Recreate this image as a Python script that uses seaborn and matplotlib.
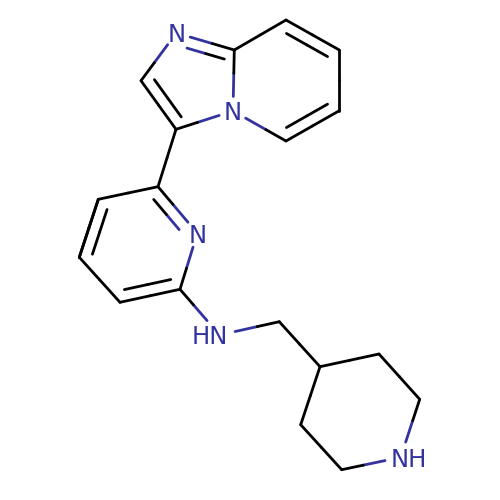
import numpy as np
import pandas as pd
import matplotlib
matplotlib.use("Agg")
import matplotlib.pyplot as plt
import seaborn as sns

# atom positions
atom_names = ['N1', 'C2', 'C3', 'Nb', 'C8a', 'C8', 'C7', 'C6', 'C5',
              'Pa', 'Pb', 'Pc', 'Pd', 'Pe', 'Pn', 'NH', 'CH2',
              'Qa', 'Qb', 'Qc', 'Qn', 'Qd', 'Qe']
atom_x = [176.3, 141, 176, 233, 234.3, 286, 339.3, 339.3, 286,
          158, 98.3, 79.3, 120, 180, 197.3, 219.5, 279.3,
          320, 379, 419.7, 400.7, 341.7, 300.7]
atom_y = [33, 80.7, 129.3, 111, 50, 20, 50, 110.7, 141,
          186.7, 199.3, 257.3, 302.3, 289.3, 233.3, 335, 321.7,
          366.7, 354, 399.3, 457.3, 469.7, 424.7]

single_bonds = [('N1', 'C2'), ('C3', 'Nb'), ('Nb', 'C8a'), ('Nb', 'C5'), ('C8a', 'C8'),
                ('C7', 'C6'), ('C3', 'Pa'), ('Pa', 'Pb'), ('Pc', 'Pb'), ('Pc', 'Pd'),
                ('Pn', 'Pe'), ('Pe', 'NH'), ('NH', 'CH2'), ('CH2', 'Qa'), ('Qa', 'Qb'),
                ('Qb', 'Qc'), ('Qc', 'Qn'), ('Qn', 'Qd'), ('Qd', 'Qe'), ('Qe', 'Qa')]
double_bonds = [('N1', 'C8a', 'five'), ('C2', 'C3', 'five'), ('C8', 'C7', 'six'),
                ('C6', 'C5', 'six'), ('Pa', 'Pn', 'pyr'), ('Pb', 'Pc', 'pyr'),
                ('Pd', 'Pe', 'pyr')]
rings = {'five': ['N1', 'C2', 'C3', 'Nb', 'C8a'],
         'six': ['Nb', 'C8a', 'C8', 'C7', 'C6', 'C5'],
         'pyr': ['Pa', 'Pb', 'Pc', 'Pd', 'Pe', 'Pn']}
labels = [('N', 176.3, 33), ('N', 233, 111), ('N', 197.3, 233.3),
          ('HN', 210, 335), ('NH', 409.3, 457.3)]

BLUE = '#33339f'
pos = {n: np.array([x, y]) for n, x, y in zip(atom_names, atom_x, atom_y)}
gaps = {'N1': 14.5, 'Nb': 14.5, 'Pn': 14.5, 'NH': 16, 'Qn': 16}
INNER_END = 7
OFFSET = 11.5


def add_bond(rows, a, b, shift=(0, 0), trim=0):
    # colour changes halfway along the part of the bond that is visible
    p, q = pos[a], pos[b]
    length = np.linalg.norm(q - p)
    u = (q - p) / length
    t0 = gaps.get(a, trim)
    t1 = length - gaps.get(b, trim)
    if b == 'NH' and a == 'Pe':
        t1 -= 3  # the H of the label sits on this side
    mid = (t0 + t1) / 2
    for s, e, col in [(t0, mid, a), (mid, t1, b)]:
        seg = len(rows)
        colour = 'n' if col in gaps else 'c'
        for t in (s, e):
            pt = p + u * t + np.array(shift)
            rows.append({'x': pt[0], 'y': pt[1], 'seg': seg, 'colour': colour})


rows = []
for a, b in single_bonds:
    add_bond(rows, a, b)
for a, b, ring in double_bonds:
    add_bond(rows, a, b)
    centre = np.mean([pos[n] for n in rings[ring]], axis=0)
    u = (pos[b] - pos[a]) / np.linalg.norm(pos[b] - pos[a])
    normal = np.array([-u[1], u[0]])
    if np.dot(normal, centre - pos[a]) < 0:
        normal = -normal
    add_bond(rows, a, b, shift=normal * OFFSET, trim=INNER_END)
df = pd.DataFrame(rows)

sns.set_style("white")
fig = plt.figure(figsize=(5, 5), dpi=100)
ax = fig.add_axes([0, 0, 1, 1])
sns.lineplot(data=df, x='x', y='y', hue='colour', units='seg', estimator=None, sort=False,
             palette={'c': 'black', 'n': BLUE}, legend=False, linewidth=2.0,
             solid_capstyle='round', ax=ax)
for text, x, y in labels:
    ax.text(x, y, text, color=BLUE, fontsize=17.5, family='DejaVu Sans', ha='center', va='center_baseline')
ax.set_xlim(0, 500)
ax.set_ylim(500, 0)
ax.axis('off')
fig.savefig('out.png', dpi=100, facecolor='white')
